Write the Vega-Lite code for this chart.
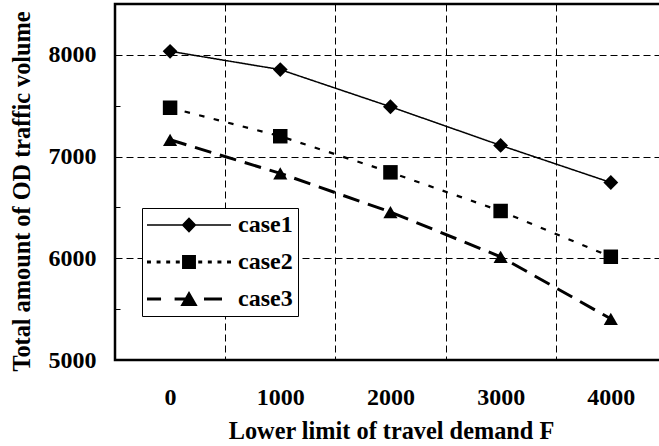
{
  "$schema": "https://vega.github.io/schema/vega-lite/v6.json",
  "width": 552,
  "height": 356,
  "autosize": {"type": "none"},
  "padding": {"left": 115, "top": 4, "right": 0, "bottom": 86},
  "background": "white",
  "config": {
    "view": {"stroke": "black", "strokeWidth": 2.5},
    "font": "Liberation Serif",
    "axis": {
      "labelFont": "Liberation Serif",
      "labelFontWeight": "bold",
      "labelFontSize": 24,
      "labelColor": "black",
      "titleFont": "Liberation Serif",
      "titleFontWeight": "bold",
      "titleFontSize": 24.3,
      "titleColor": "black",
      "domain": false,
      "gridDash": [7, 4],
      "gridWidth": 1
    }
  },
  "data": {
    "values": [
      {"F": 0, "volume": 8035, "case": "case1"},
      {"F": 1000, "volume": 7855, "case": "case1"},
      {"F": 2000, "volume": 7490, "case": "case1"},
      {"F": 3000, "volume": 7110, "case": "case1"},
      {"F": 4000, "volume": 6745, "case": "case1"},
      {"F": 0, "volume": 7480, "case": "case2"},
      {"F": 1000, "volume": 7200, "case": "case2"},
      {"F": 2000, "volume": 6845, "case": "case2"},
      {"F": 3000, "volume": 6465, "case": "case2"},
      {"F": 4000, "volume": 6015, "case": "case2"},
      {"F": 0, "volume": 7165, "case": "case3"},
      {"F": 1000, "volume": 6835, "case": "case3"},
      {"F": 2000, "volume": 6455, "case": "case3"},
      {"F": 3000, "volume": 6015, "case": "case3"},
      {"F": 4000, "volume": 5405, "case": "case3"}
    ]
  },
  "encoding": {
    "x": {
      "field": "F",
      "type": "quantitative",
      "scale": {"domain": [-500, 4510], "nice": false, "zero": false},
      "axis": {
        "title": "Lower limit of travel demand F",
        "values": [0, 500, 1000, 1500, 2000, 2500, 3000, 3500, 4000],
        "format": "d",
        "labelExpr": "datum.value % 1000 === 0 ? datum.label : ''",
        "labelFlush": false,
        "labelOverlap": false,
        "ticks": false,
        "grid": true,
        "gridColor": {"condition": {"test": "datum.value % 1000 === 0", "value": "transparent"}, "value": "black"},
        "labelPadding": 25,
        "titlePadding": 10
      }
    },
    "y": {
      "field": "volume",
      "type": "quantitative",
      "scale": {"domain": [5000, 8500], "nice": false, "zero": false},
      "axis": {
        "title": "Total amount of OD traffic volume",
        "titleY": 187,
        "values": [5000, 5500, 6000, 6500, 7000, 7500, 8000],
        "format": "d",
        "labelExpr": "datum.value % 1000 === 0 ? datum.label : ''",
        "labelOverlap": false,
        "labelFlush": false,
        "ticks": true,
        "tickSize": -5,
        "tickWidth": 1,
        "tickColor": {"condition": {"test": "datum.value % 1000 === 0", "value": "transparent"}, "value": "black"},
        "grid": true,
        "gridColor": {"condition": {"test": "datum.value % 1000 === 0 && datum.value > 5000", "value": "black"}, "value": "transparent"},
        "labelPadding": 24,
        "titlePadding": 14
      }
    }
  },
  "resolve": {"scale": {"shape": "independent"}},
  "layer": [
    {
      "mark": {"type": "line", "color": "black"},
      "encoding": {
        "detail": {"field": "case", "type": "nominal"},
        "strokeDash": {
          "field": "case",
          "type": "nominal",
          "scale": {"domain": ["case1", "case2", "case3"], "range": [[1, 0], [5.5, 9.5], [17, 9]]},
          "legend": null
        },
        "strokeWidth": {
          "field": "case",
          "type": "ordinal",
          "scale": {"domain": ["case1", "case2", "case3"], "range": [1.5, 3, 3]},
          "legend": null
        }
      }
    },
    {
      "mark": {"type": "point", "filled": true, "color": "black", "opacity": 1},
      "encoding": {
        "shape": {
          "field": "case",
          "type": "nominal",
          "scale": {"domain": ["case1", "case2", "case3"], "range": ["diamond", "square", "triangle-up"]},
          "legend": null
        },
        "size": {
          "field": "case",
          "type": "ordinal",
          "scale": {"domain": ["case1", "case2", "case3"], "range": [220, 200, 300]},
          "legend": null
        }
      }
    },
    {
      "mark": {"type": "point", "filled": true, "color": "black", "opacity": 0},
      "encoding": {
        "shape": {
          "field": "case",
          "type": "nominal",
          "scale": {
            "domain": ["case1", "case2", "case3"],
            "range": [
              "M-3.5,-0.06H3.5V0.06H-3.5Z M0,-0.65L0.62,0L0,0.65L-0.62,0Z",
              "M-3.5,-0.13H-3.17V0.13H-3.5Z M-2.7,-0.13H-2.37V0.13H-2.7Z M-1.9,-0.13H-1.57V0.13H-1.9Z M-1.1,-0.13H-0.77V0.13H-1.1Z M-0.58,-0.58H0.58V0.58H-0.58Z M0.77,-0.13H1.1V0.13H0.77Z M1.57,-0.13H1.9V0.13H1.57Z M2.37,-0.13H2.7V0.13H2.37Z M3.17,-0.13H3.5V0.13H3.17Z",
              "M-3.5,-0.13H-2.33V0.13H-3.5Z M-1.2,-0.13H-0.3V0.13H-1.2Z M1.25,-0.13H2.75V0.13H1.25Z M0,-0.66L0.72,0.58H-0.72Z"
            ]
          },
          "legend": {
            "title": null,
            "orient": "none",
            "legendX": 27,
            "legendY": 204,
            "strokeColor": "black",
            "fillColor": "white",
            "padding": 5,
            "symbolSize": 576,
            "symbolOffset": 30,
            "symbolFillColor": "black",
            "symbolStrokeColor": "black",
            "symbolStrokeWidth": 0,
            "symbolOpacity": 1,
            "labelFont": "Liberation Serif",
            "labelFontWeight": "bold",
            "labelFontSize": 24,
            "labelColor": "black",
            "labelOffset": 37,
            "rowPadding": 13
          }
        }
      }
    }
  ]
}
